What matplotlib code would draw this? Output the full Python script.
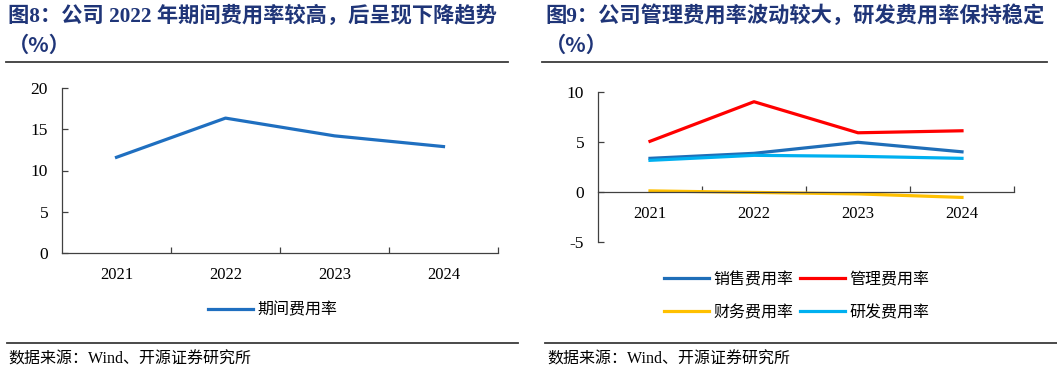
import matplotlib.pyplot as plt

# values (%)
years = ['2021', '2022', '2023', '2024']
period_rate = [11.6, 16.35, 14.2, 12.9]
sales_rate = [3.35, 3.85, 4.95, 4.0]
admin_rate = [5.05, 9.0, 5.9, 6.1]
finance_rate = [0.1, -0.05, -0.2, -0.55]
rd_rate = [3.15, 3.65, 3.55, 3.35]

title_left = '图8：公司 2022 年期间费用率较高，后呈现下降趋势'
title_right = '图9：公司管理费用率波动较大，研发费用率保持稳定'
source = '数据来源：Wind、开源证券研究所'

W, H = 1057, 374
NAVY = '#1F3578'
AXIS = '#404040'
SERIF = ['Liberation Serif', 'Noto Sans CJK SC']
CJK = ['Noto Sans CJK SC', 'DejaVu Sans']
plt.rcParams['font.family'] = SERIF

fig = plt.figure(figsize=(W / 100, H / 100), dpi=100)


def px_axes(x0, x1, ytop, ybot):
    return fig.add_axes([x0 / W, 1 - ybot / H, (x1 - x0) / W, (ybot - ytop) / H])


def hline(x0, x1, y, lw=1.3):
    fig.add_artist(plt.Line2D([x0 / W, x1 / W], [1 - y / H, 1 - y / H],
                              transform=fig.transFigure, color='#3a3a3a', lw=lw))


def style_axes(ax, yticks):
    n = len(years)
    ax.set_xlim(-0.5, n - 0.5)
    for s in ['top', 'right']:
        ax.spines[s].set_visible(False)
    for s in ['left', 'bottom']:
        ax.spines[s].set_color(AXIS)
        ax.spines[s].set_linewidth(0.9)
    ax.set_xticks([i + 0.5 for i in range(n)])
    ax.set_xticklabels([''] * n)
    ax.set_xticks(range(n), minor=True)
    ax.set_xticklabels(years, minor=True, fontsize=12)
    ax.tick_params(axis='x', which='major', direction='in', length=4, width=0.9, color=AXIS)
    ax.tick_params(axis='x', which='minor', length=0, pad=10)
    ax.set_yticks(yticks)
    ax.set_yticklabels([str(v) for v in yticks], fontsize=12.5)
    ax.tick_params(axis='y', direction='in', length=4, width=0.9, color=AXIS, pad=10)


x = range(len(years))

# left panel
ax1 = px_axes(62, 498, 88, 253)
ax1.plot(x, period_rate, color='#1F6FC0', lw=2.3, label='期间费用率')
ax1.set_ylim(0, 20)
style_axes(ax1, [0, 5, 10, 15, 20])
fig.legend(handles=ax1.get_lines(), loc='center', bbox_to_anchor=(273 / W, 1 - 310 / H),
           frameon=False, prop={'family': CJK, 'size': 11.5}, handlelength=2.8,
           handletextpad=0.3, borderpad=0, borderaxespad=0)

# right panel
ax2 = px_axes(598, 1014, 91.7, 242)
ax2.spines['bottom'].set_position(('data', 0))
l_sales, = ax2.plot(x, sales_rate, color='#1F6EB8', lw=2.3, label='销售费用率')
l_admin, = ax2.plot(x, admin_rate, color='#FF0000', lw=2.3, label='管理费用率')
l_fin, = ax2.plot(x, finance_rate, color='#FFC000', lw=2.3, label='财务费用率')
l_rd, = ax2.plot(x, rd_rate, color='#00B0F0', lw=2.3, label='研发费用率')
ax2.set_ylim(-5, 10)
style_axes(ax2, [-5, 0, 5, 10])
fig.legend(handles=[l_sales, l_fin, l_admin, l_rd], ncol=2, loc='center',
           bbox_to_anchor=(797 / W, 1 - 296 / H), frameon=False,
           prop={'family': CJK, 'size': 11.5}, handlelength=2.8, handletextpad=0.3,
           columnspacing=0.4, labelspacing=1.0, borderpad=0, borderaxespad=0)

# titles, rules and sources
for x0, title in [(8, title_left), (545, title_right)]:
    fig.text(x0 / W, 1 - 16 / H, title, fontweight='bold',
             fontsize=15.3, color=NAVY, va='center', ha='left')
    fig.text(x0 / W, 1 - 45 / H, '（%）', fontfamily=CJK, fontweight='bold',
             fontsize=15.3, color=NAVY, va='center', ha='left')
hline(6, 508, 62)
hline(542, 1047, 62)
hline(7, 518, 343)
hline(545, 1057, 343)
fig.text(8 / W, 1 - 360 / H, source, fontsize=11.5, va='center', ha='left')
fig.text(547 / W, 1 - 360 / H, source, fontsize=11.5, va='center', ha='left')

fig.savefig('out.png', dpi=100)
